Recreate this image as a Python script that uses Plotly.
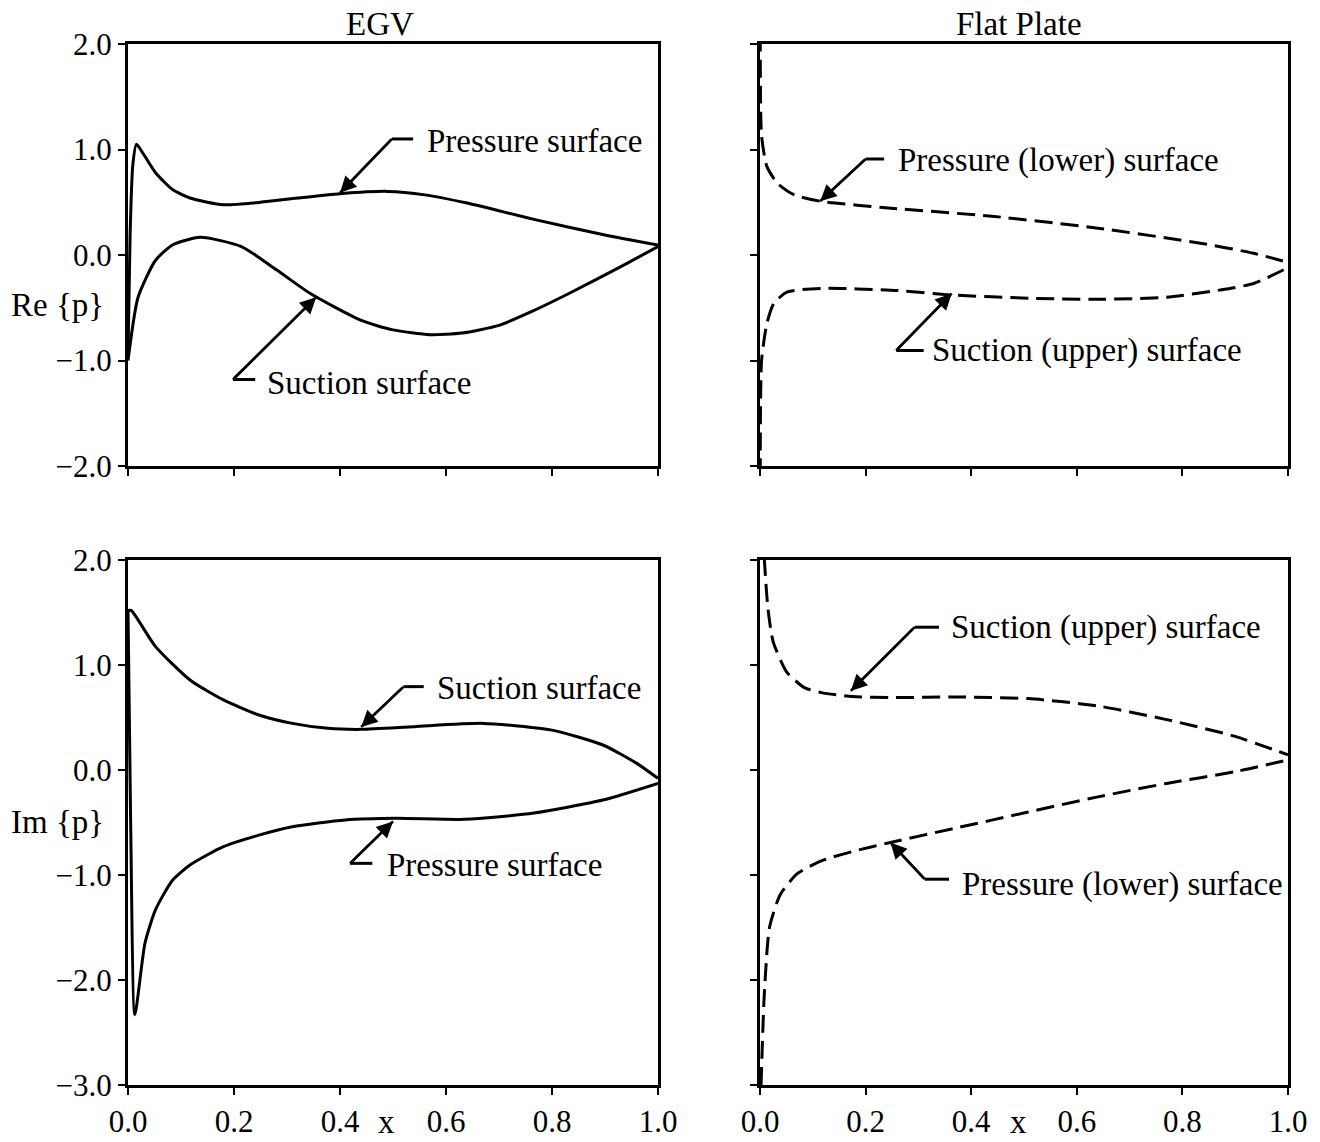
import plotly.graph_objects as go

# ---------------- data ----------------
# EGV, Re{p}
egv_re_ps_x = [0.0, 0.004, 0.009, 0.016, 0.03, 0.052, 0.084, 0.117, 0.18, 0.25, 0.32, 0.40, 0.49, 0.56, 0.64, 0.77, 0.90, 1.0]
egv_re_ps_y = [-0.95, 0.2, 0.85, 1.05, 0.95, 0.78, 0.62, 0.54, 0.476, 0.50, 0.54, 0.581, 0.603, 0.57, 0.492, 0.333, 0.19, 0.095]
egv_re_ss_x = [0.0, 0.019, 0.052, 0.084, 0.136, 0.214, 0.28, 0.344, 0.44, 0.50, 0.57, 0.63, 0.70, 0.76, 0.83, 0.93, 1.0]
egv_re_ss_y = [-1.0, -0.40, -0.05, 0.095, 0.168, 0.08, -0.14, -0.365, -0.62, -0.71, -0.755, -0.74, -0.667, -0.54, -0.37, -0.11, 0.08]

# Flat plate, Re{p}
fp_re_ps_x = [0.0005, 0.003, 0.013, 0.033, 0.065, 0.114, 0.248, 0.444, 0.64, 0.837, 0.935, 1.0]
fp_re_ps_y = [2.1, 1.13, 0.84, 0.68, 0.57, 0.51, 0.444, 0.365, 0.254, 0.11, 0.016, -0.07]
fp_re_ss_x = [0.0005, 0.003, 0.013, 0.026, 0.052, 0.118, 0.248, 0.366, 0.51, 0.64, 0.77, 0.87, 0.935, 1.0]
fp_re_ss_y = [-2.1, -1.0, -0.65, -0.46, -0.35, -0.317, -0.333, -0.38, -0.41, -0.42, -0.40, -0.333, -0.27, -0.12]

# EGV, Im{p}
egv_im_ss_x = [0.0, 0.006, 0.052, 0.117, 0.18, 0.247, 0.31, 0.377, 0.44, 0.54, 0.67, 0.80, 0.896, 0.96, 1.0]
egv_im_ss_y = [1.52, 1.52, 1.175, 0.857, 0.667, 0.524, 0.444, 0.397, 0.387, 0.413, 0.444, 0.38, 0.238, 0.063, -0.08]
egv_im_ps_x = [0.0, 0.005, 0.013, 0.032, 0.052, 0.084, 0.117, 0.18, 0.247, 0.31, 0.41, 0.506, 0.636, 0.766, 0.896, 1.0]
egv_im_ps_y = [1.52, -0.5, -2.33, -1.65, -1.33, -1.05, -0.905, -0.73, -0.62, -0.54, -0.476, -0.46, -0.47, -0.41, -0.286, -0.127]

# Flat plate, Im{p}
fp_im_ss_x = [0.008, 0.015, 0.025, 0.051, 0.084, 0.116, 0.175, 0.247, 0.378, 0.508, 0.64, 0.77, 0.90, 1.0]
fp_im_ss_y = [2.02, 1.54, 1.22, 0.93, 0.785, 0.737, 0.70, 0.69, 0.695, 0.68, 0.61, 0.48, 0.32, 0.144]
fp_im_ps_x = [0.002, 0.008, 0.018, 0.038, 0.07, 0.116, 0.18, 0.247, 0.378, 0.508, 0.64, 0.77, 0.90, 1.0]
fp_im_ps_y = [-3.0, -2.15, -1.5, -1.19, -0.99, -0.865, -0.77, -0.69, -0.545, -0.40, -0.256, -0.128, -0.016, 0.096]

x_ticks = [0.0, 0.2, 0.4, 0.6, 0.8, 1.0]
x_ticklabels = ["0.0", "0.2", "0.4", "0.6", "0.8", "1.0"]
y_ticks_re = [-2.0, -1.0, 0.0, 1.0, 2.0]
y_ticks_im = [-3.0, -2.0, -1.0, 0.0, 1.0, 2.0]

panel_titles = ["EGV", "Flat Plate"]
row_labels = ["Re {p}", "Im {p}"]

# callouts: (axes suffix, text, tip(x,y), elbow(x,y), horizontal end x, text start x, text y)
callouts = [
    ("", "Pressure surface", (0.40, 0.59), (0.498, 1.10), 0.538, 0.56, 1.08),
    ("", "Suction surface", (0.355, -0.40), (0.198, -1.18), 0.24, 0.258, -1.21),
    ("2", "Pressure (lower) surface", (0.114, 0.51), (0.20, 0.91), 0.235, 0.258, 0.90),
    ("2", "Suction (upper) surface", (0.363, -0.365), (0.258, -0.905), 0.31, 0.322, -0.905),
    ("3", "Suction surface", (0.44, 0.41), (0.52, 0.794), 0.558, 0.579, 0.78),
    ("3", "Pressure surface", (0.50, -0.49), (0.419, -0.889), 0.461, 0.484, -0.905),
    ("4", "Suction (upper) surface", (0.172, 0.753), (0.293, 1.36), 0.339, 0.357, 1.36),
    ("4", "Pressure (lower) surface", (0.247, -0.69), (0.312, -1.04), 0.358, 0.378, -1.09),
]

FONT = "Liberation Serif"
FS = 33
TFS = 31

fig = go.Figure()
line_solid = dict(color="black", width=3)
line_dash = dict(color="black", width=3, dash="18px,8px")

def sp(base):
    return dict(base, shape="spline", smoothing=0.6)

fig.add_trace(go.Scatter(x=egv_re_ps_x, y=egv_re_ps_y, mode="lines", line=sp(line_solid), xaxis="x", yaxis="y"))
fig.add_trace(go.Scatter(x=egv_re_ss_x, y=egv_re_ss_y, mode="lines", line=sp(line_solid), xaxis="x", yaxis="y"))
fig.add_trace(go.Scatter(x=fp_re_ps_x, y=fp_re_ps_y, mode="lines", line=sp(line_dash), xaxis="x2", yaxis="y2"))
fig.add_trace(go.Scatter(x=fp_re_ss_x, y=fp_re_ss_y, mode="lines", line=sp(line_dash), xaxis="x2", yaxis="y2"))
fig.add_trace(go.Scatter(x=egv_im_ss_x, y=egv_im_ss_y, mode="lines", line=sp(line_solid), xaxis="x3", yaxis="y3"))
fig.add_trace(go.Scatter(x=egv_im_ps_x, y=egv_im_ps_y, mode="lines", line=sp(line_solid), xaxis="x3", yaxis="y3"))
fig.add_trace(go.Scatter(x=fp_im_ss_x, y=fp_im_ss_y, mode="lines", line=sp(line_dash), xaxis="x4", yaxis="y4"))
fig.add_trace(go.Scatter(x=fp_im_ps_x, y=fp_im_ps_y, mode="lines", line=sp(line_dash), xaxis="x4", yaxis="y4"))

W, H = 1320, 1142
xl = [128 / W, 658 / W]
xr = [760 / W, 1288 / W]
yt = [1 - 466 / H, 1 - 44 / H]
yb = [1 - 1085 / H, 1 - 560 / H]

common = dict(showgrid=False, zeroline=False, showline=True, linecolor="black", linewidth=3,
              mirror=True, ticks="outside", ticklen=7, tickwidth=2, tickcolor="black",
              automargin=False,
              tickfont=dict(family=FONT, size=TFS, color="black"))

def xax(domain, anchor, labels):
    return dict(common, domain=domain, anchor=anchor, range=[0, 1], tickvals=x_ticks,
                ticktext=x_ticklabels, showticklabels=labels)

def yax(domain, anchor, rng, vals, labels):
    return dict(common, domain=domain, anchor=anchor, range=rng, tickvals=vals,
                ticktext=[f"{v:.1f}".replace("-", "\u2212") for v in vals], showticklabels=labels)

annotations = []
shapes = []
for suf, text, tip, elbow, hend, tx, ty in callouts:
    xr_ = "x" + suf
    yr_ = "y" + suf
    shapes.append(dict(type="line", xref=xr_, yref=yr_, x0=elbow[0], y0=elbow[1], x1=hend, y1=elbow[1],
                       line=dict(color="black", width=3)))
    shapes.append(dict(type="line", xref=xr_, yref=yr_, x0=elbow[0], y0=elbow[1], x1=tip[0], y1=tip[1],
                       line=dict(color="black", width=2.5)))
    annotations.append(dict(xref=xr_, yref=yr_, x=tip[0], y=tip[1], axref=xr_, ayref=yr_,
                            ax=elbow[0], ay=elbow[1], text="", showarrow=True, arrowhead=2,
                            arrowsize=1.3, arrowwidth=2.5, arrowcolor="black"))
    annotations.append(dict(xref=xr_, yref=yr_, x=tx, y=ty, text=text, showarrow=False,
                            xanchor="left", yanchor="middle",
                            font=dict(family=FONT, size=FS, color="black")))

def paper_text(px, py, text, yanchor="middle"):
    return dict(xref="paper", yref="paper", x=px / W, y=1 - py / H, text=text, showarrow=False,
                xanchor="center", yanchor=yanchor,
                font=dict(family=FONT, size=FS, color="black"))

annotations += [
    paper_text(380, 24, panel_titles[0]),
    paper_text(1019, 24, panel_titles[1]),
    paper_text(57, 305, row_labels[0]),
    paper_text(57, 822, row_labels[1]),
    paper_text(386, H, "x", "bottom"),
    paper_text(1018, H, "x", "bottom"),
]

fig.update_layout(
    width=W, height=H, margin=dict(l=0, r=0, t=0, b=0, autoexpand=False),
    paper_bgcolor="white", plot_bgcolor="white", showlegend=False,
    xaxis=xax(xl, "y", False), yaxis=yax(yt, "x", [-2, 2], y_ticks_re, True),
    xaxis2=xax(xr, "y2", False), yaxis2=yax(yt, "x2", [-2, 2], y_ticks_re, False),
    xaxis3=xax(xl, "y3", True), yaxis3=yax(yb, "x3", [-3, 2], y_ticks_im, True),
    xaxis4=xax(xr, "y4", True), yaxis4=yax(yb, "x4", [-3, 2], y_ticks_im, False),
    annotations=annotations, shapes=shapes,
)

fig.write_html("out.html")
